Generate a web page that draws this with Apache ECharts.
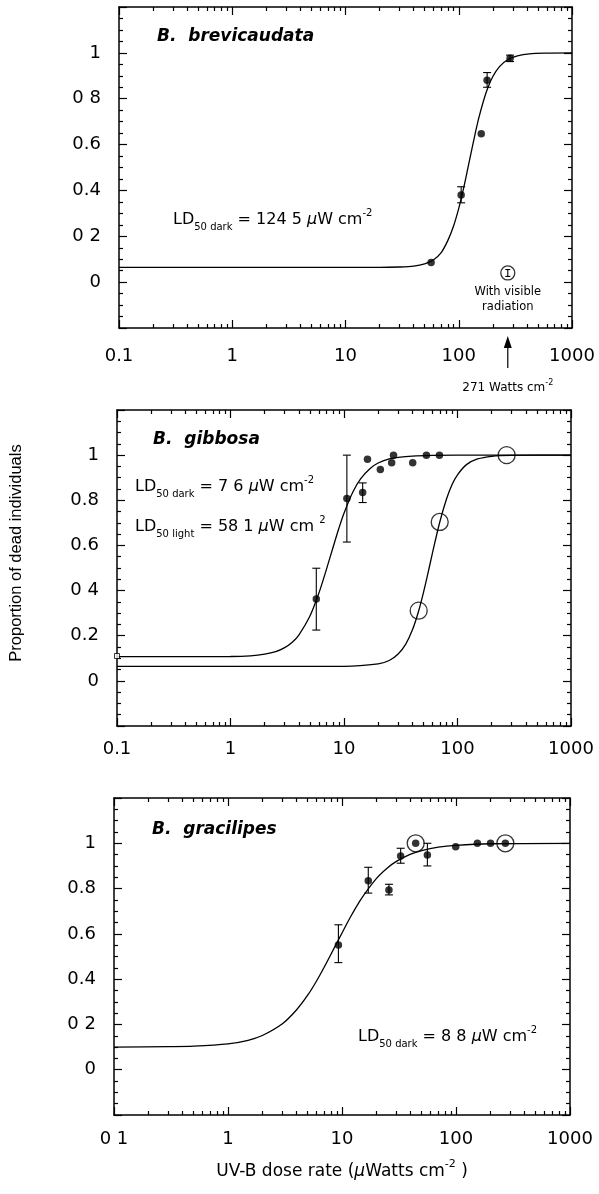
<!DOCTYPE html>
<html>
<head>
<meta charset="utf-8">
<script src="https://cdn.jsdelivr.net/npm/echarts@6/dist/echarts.min.js"></script>
<style>
html, body { margin: 0; padding: 0; background: #fff; }
#container { width: 599px; height: 1194px; }
</style>
</head>
<body>
<div id="container"></div>
<script>
// ---- tick labels (as printed) ----
const xTickLabels1 = ['0.1', '1', '10', '100', '1000'];
const xTickLabels2 = ['0.1', '1', '10', '100', '1000'];
const xTickLabels3 = ['0 1', '1', '10', '100', '1000'];
const yTickLabels1 = ['0', '0 2', '0.4', '0.6', '0 8', '1'];
const yTickLabels2 = ['0', '0.2', '0 4', '0.6', '0.8', '1'];
const yTickLabels3 = ['0', '0 2', '0.4', '0.6', '0.8', '1'];
const xMinorTicks = [0.2, 0.3, 0.4, 0.5, 0.6, 0.7, 0.8, 0.9, 2, 3, 4, 5, 6, 7, 8, 9,
  20, 30, 40, 50, 60, 70, 80, 90, 200, 300, 400, 500, 600, 700, 800, 900];

// ---- B. brevicaudata ----
const brevDose = [57, 105, 158, 178, 284];
const brevProp = [0.086, 0.38, 0.647, 0.88, 0.977];
const brevErrDose = [105, 178, 284];
const brevErrLow = [0.346, 0.85, 0.962];
const brevErrHigh = [0.416, 0.914, 0.99];
const brevVisDose = [271];
const brevVisProp = [0.04];
const brevVisLow = [0.025];
const brevVisHigh = [0.055];
const brevFitDose = [0.1, 1, 10, 20, 30, 40, 50, 60, 70, 80, 90, 100, 110, 120, 130, 140, 150, 165, 180, 200, 230, 270, 330, 420, 600, 1000];
const brevFitProp = [0.064, 0.064, 0.064, 0.064, 0.066, 0.07, 0.08, 0.098, 0.129, 0.181, 0.245, 0.322, 0.407, 0.494, 0.576, 0.65, 0.714, 0.789, 0.846, 0.897, 0.941, 0.97, 0.987, 0.996, 0.999, 1.0];

// ---- B. gibbosa ----
const gibDarkDose = [5.7, 10.6, 14.6, 16.1, 20.9, 26.3, 27.3, 40.3, 53.2, 69.3];
const gibDarkProp = [0.363, 0.808, 0.834, 0.982, 0.936, 0.966, 1.0, 0.966, 1.0, 1.0];
const gibErrDose = [5.7, 10.6, 14.6];
const gibErrLow = [0.225, 0.615, 0.79];
const gibErrHigh = [0.499, 1.0, 0.877];
const gibLightDose = [45.5, 69.7, 271];
const gibLightProp = [0.311, 0.704, 1.0];
const gibControlDose = [0.1];
const gibControlProp = [0.11];
const gibDarkFitDose = [0.1, 1, 1.5, 2, 2.5, 3, 3.5, 4, 5, 6, 7, 8, 9, 10, 12, 14, 17, 20, 25, 30, 40, 60, 100, 1000];
const gibDarkFitProp = [0.107, 0.108, 0.111, 0.118, 0.129, 0.147, 0.171, 0.203, 0.286, 0.388, 0.494, 0.591, 0.675, 0.743, 0.838, 0.895, 0.941, 0.965, 0.983, 0.99, 0.996, 0.999, 1.0, 1.0];
const gibLightFitDose = [0.1, 1, 10, 20, 25, 30, 35, 40, 45, 50, 55, 60, 70, 80, 90, 100, 120, 150, 200, 300, 1000];
const gibLightFitProp = [0.064, 0.064, 0.064, 0.075, 0.09, 0.119, 0.163, 0.225, 0.302, 0.389, 0.478, 0.564, 0.706, 0.806, 0.872, 0.913, 0.958, 0.983, 0.995, 0.999, 1.0];

// ---- B. gracilipes ----
const graDose = [9.3, 17, 25.8, 32.7, 44.3, 56.1, 99.4, 154, 201, 271];
const graProp = [0.551, 0.835, 0.794, 0.944, 1.0, 0.948, 0.985, 1.0, 1.0, 1.0];
const graCircledDose = [44.3, 271];
const graCircledProp = [1.0, 1.0];
const graErrDose = [9.3, 17, 25.8, 32.7, 56.1];
const graErrLow = [0.473, 0.78, 0.772, 0.912, 0.9];
const graErrHigh = [0.64, 0.894, 0.819, 0.978, 1.0];
const graFitDose = [0.1, 0.3, 0.5, 1, 1.5, 2, 3, 4, 5, 6, 7, 8, 10, 12, 15, 20, 25, 30, 40, 50, 70, 100, 200, 1000];
const graFitProp = [0.1, 0.102, 0.104, 0.114, 0.13, 0.151, 0.203, 0.265, 0.329, 0.393, 0.454, 0.51, 0.604, 0.679, 0.76, 0.844, 0.891, 0.92, 0.952, 0.968, 0.983, 0.991, 0.998, 1.0];

const FONT = 'DejaVu Sans';
const BLACK = '#000';

const zip = (xs, ys) => xs.map((x, i) => [x, ys[i]]);
const zip3 = (xs, a, b) => xs.map((x, i) => [x, a[i], b[i]]);

const grids = [
  { left: 119, top: 7, width: 453, height: 321 },
  { left: 117, top: 410, width: 454, height: 316 },
  { left: 114, top: 798, width: 456, height: 317 },
];

function xAxes(p, labels, margin) {
  const base = {
    type: 'log', logBase: 10, min: 0.1, max: 1000, gridIndex: p,
    splitLine: { show: false },
  };
  const lineOn = { show: true, onZero: false, lineStyle: { color: BLACK, width: 1.5 } };
  const lineOff = { show: false, onZero: false };
  const major = { inside: true, length: 8, lineStyle: { color: BLACK, width: 1.2 } };
  const minor = { inside: true, length: 4, customValues: xMinorTicks, lineStyle: { color: BLACK, width: 1.2 } };
  return [
    Object.assign({}, base, {
      position: 'bottom', axisLine: lineOn, axisTick: major,
      axisLabel: {
        margin: margin, fontSize: 18, fontFamily: FONT, color: BLACK,
        formatter: (v) => labels[Math.round(Math.log10(v)) + 1] || '',
      },
    }),
    Object.assign({}, base, { position: 'bottom', axisLine: lineOff, axisTick: minor, axisLabel: { show: false } }),
    Object.assign({}, base, { position: 'top', axisLine: lineOn, axisTick: major, axisLabel: { show: false } }),
    Object.assign({}, base, { position: 'top', axisLine: lineOff, axisTick: minor, axisLabel: { show: false } }),
  ];
}

function yAxes(p, labels) {
  const base = {
    type: 'value', min: -0.2, max: 1.2, interval: 0.2, gridIndex: p,
    splitLine: { show: false },
    axisLine: { show: true, onZero: false, lineStyle: { color: BLACK, width: 1.5 } },
    axisTick: { inside: true, length: 8, lineStyle: { color: BLACK, width: 1.2 } },
    minorTick: { show: true, splitNumber: 4, length: 4, lineStyle: { color: BLACK, width: 1.2 } },
  };
  return [
    Object.assign({}, base, {
      position: 'left',
      axisLabel: {
        margin: 18, fontSize: 18, fontFamily: FONT, color: BLACK,
        formatter: (v) => {
          const i = Math.round(v * 5);
          return i >= 0 && i < labels.length ? labels[i] : '';
        },
      },
    }),
    Object.assign({}, base, { position: 'right', axisLabel: { show: false } }),
  ];
}

function curve(p, xs, ys) {
  return {
    type: 'line', xAxisIndex: 4 * p, yAxisIndex: 2 * p,
    data: zip(xs, ys), smooth: 0.3, showSymbol: false, symbol: 'none',
    lineStyle: { color: BLACK, width: 1.3 }, z: 2, silent: true,
  };
}

function dots(p, xs, ys, size) {
  return {
    type: 'scatter', xAxisIndex: 4 * p, yAxisIndex: 2 * p,
    data: zip(xs, ys), symbol: 'circle', symbolSize: size || 7.5,
    itemStyle: { color: BLACK }, z: 5, silent: true,
  };
}

function rings(p, xs, ys, size) {
  return {
    type: 'scatter', xAxisIndex: 4 * p, yAxisIndex: 2 * p,
    data: zip(xs, ys), symbol: 'circle', symbolSize: size,
    itemStyle: { color: 'rgba(0,0,0,0)', borderColor: BLACK, borderWidth: 1.3 }, z: 4, silent: true,
  };
}

function errorBars(p, xs, lo, hi, cap) {
  const w = cap || 4;
  return {
    type: 'custom', xAxisIndex: 4 * p, yAxisIndex: 2 * p,
    data: zip3(xs, lo, hi), encode: { x: 0, y: [1, 2] }, z: 3, silent: true,
    renderItem: function (params, api) {
      const a = api.coord([api.value(0), api.value(1)]);
      const b = api.coord([api.value(0), api.value(2)]);
      const st = { stroke: BLACK, lineWidth: 1.1 };
      return {
        type: 'group',
        children: [
          { type: 'line', shape: { x1: a[0], y1: a[1], x2: b[0], y2: b[1] }, style: st },
          { type: 'line', shape: { x1: a[0] - w, y1: a[1], x2: a[0] + w, y2: a[1] }, style: st },
          { type: 'line', shape: { x1: b[0] - w, y1: b[1], x2: b[0] + w, y2: b[1] }, style: st },
        ],
      };
    },
  };
}

const dom = document.getElementById('container');
const myChart = echarts.init(dom, null, { renderer: 'canvas' });

const option = {
  backgroundColor: '#fff',
  animation: false,
  grid: grids,
  xAxis: [].concat(xAxes(0, xTickLabels1, 19), xAxes(1, xTickLabels2, 14), xAxes(2, xTickLabels3, 15)),
  yAxis: [].concat(yAxes(0, yTickLabels1), yAxes(1, yTickLabels2), yAxes(2, yTickLabels3)),
  series: [
    curve(0, brevFitDose, brevFitProp),
    errorBars(0, brevErrDose, brevErrLow, brevErrHigh),
    dots(0, brevDose, brevProp),
    rings(0, brevVisDose, brevVisProp, 14),
    errorBars(0, brevVisDose, brevVisLow, brevVisHigh, 2.5),

    curve(1, gibDarkFitDose, gibDarkFitProp),
    curve(1, gibLightFitDose, gibLightFitProp),
    errorBars(1, gibErrDose, gibErrLow, gibErrHigh),
    dots(1, gibDarkDose, gibDarkProp),
    rings(1, gibLightDose, gibLightProp, 17),
    {
      type: 'scatter', xAxisIndex: 4, yAxisIndex: 2,
      data: zip(gibControlDose, gibControlProp), symbol: 'rect', symbolSize: 5,
      itemStyle: { color: '#fff', borderColor: BLACK, borderWidth: 1 }, z: 5, silent: true,
    },

    curve(2, graFitDose, graFitProp),
    errorBars(2, graErrDose, graErrLow, graErrHigh),
    dots(2, graDose, graProp),
    rings(2, graCircledDose, graCircledProp, 17),
  ],
};

myChart.setOption(option);

// ---- annotations ----
const ldRich = {
  n: { fontFamily: FONT, fontSize: 16, lineHeight: 24, verticalAlign: 'middle', color: BLACK },
  i: { fontFamily: FONT, fontSize: 16, fontStyle: 'italic', lineHeight: 24, verticalAlign: 'middle', color: BLACK },
  s: { fontFamily: FONT, fontSize: 10, lineHeight: 10, verticalAlign: 'bottom', color: BLACK },
  p: { fontFamily: FONT, fontSize: 10, lineHeight: 10, verticalAlign: 'top', color: BLACK },
};

function ldText(x, y, text) {
  return {
    type: 'text', x: x, y: y, silent: true,
    style: { text: text, rich: ldRich, align: 'left', verticalAlign: 'middle' },
  };
}

function speciesText(x, y, text) {
  return {
    type: 'text', x: x, y: y, silent: true,
    style: {
      text: text, fontFamily: FONT, fontSize: 17, fontWeight: 'bold', fontStyle: 'italic',
      fill: BLACK, align: 'left', verticalAlign: 'middle',
    },
  };
}

const arrowX = myChart.convertToPixel({ xAxisIndex: 0 }, brevVisDose[0]);

myChart.setOption({
  graphic: [
    speciesText(157, 37, 'B.  brevicaudata'),
    speciesText(153, 440, 'B.  gibbosa'),
    speciesText(152, 830, 'B.  gracilipes'),
    ldText(173, 220, '{n|LD}{s|50 dark}{n| = 124 5 }{i|µ}{n|W cm}{p|-2}'),
    ldText(135, 487, '{n|LD}{s|50 dark}{n| = 7 6 }{i|µ}{n|W cm}{p|-2}'),
    ldText(135, 527, '{n|LD}{s|50 light}{n| = 58 1 }{i|µ}{n|W cm }{p|2}'),
    ldText(358, 1037, '{n|LD}{s|50 dark}{n| = 8 8 }{i|µ}{n|W cm}{p|-2}'),
    {
      type: 'text', x: arrowX, y: 285, silent: true,
      style: {
        text: 'With visible\nradiation', fontFamily: FONT, fontSize: 11.5, lineHeight: 15,
        fill: BLACK, align: 'center', verticalAlign: 'top',
      },
    },
    {
      type: 'line', silent: true,
      shape: { x1: arrowX, y1: 346, x2: arrowX, y2: 368 },
      style: { stroke: BLACK, lineWidth: 1.2 },
    },
    {
      type: 'polygon', silent: true,
      shape: { points: [[arrowX, 336], [arrowX - 4, 348], [arrowX + 4, 348]] },
      style: { fill: BLACK },
    },
    {
      type: 'text', x: arrowX, y: 388, silent: true,
      style: {
        text: '{n|271 Watts cm}{p|-2}', align: 'center', verticalAlign: 'middle',
        rich: {
          n: { fontFamily: FONT, fontSize: 12, lineHeight: 18, verticalAlign: 'middle', color: BLACK },
          p: { fontFamily: FONT, fontSize: 8, lineHeight: 8, verticalAlign: 'top', color: BLACK },
        },
      },
    },
    {
      type: 'text', x: 16, y: 553, rotation: Math.PI / 2, silent: true,
      style: {
        text: 'Proportion of dead individuals', fontFamily: 'Liberation Sans', fontSize: 16.5,
        fill: BLACK, align: 'center', verticalAlign: 'middle',
      },
    },
    {
      type: 'text', x: 342, y: 1172, silent: true,
      style: {
        text: '{n|UV-B dose rate (}{i|µ}{n|Watts cm}{p|-2}{n| )}', align: 'center', verticalAlign: 'middle',
        rich: {
          n: { fontFamily: FONT, fontSize: 17, lineHeight: 26, verticalAlign: 'middle', color: BLACK },
          i: { fontFamily: FONT, fontSize: 17, fontStyle: 'italic', lineHeight: 26, verticalAlign: 'middle', color: BLACK },
          p: { fontFamily: FONT, fontSize: 11, lineHeight: 11, verticalAlign: 'top', color: BLACK },
        },
      },
    },
  ],
});
</script>
</body>
</html>
